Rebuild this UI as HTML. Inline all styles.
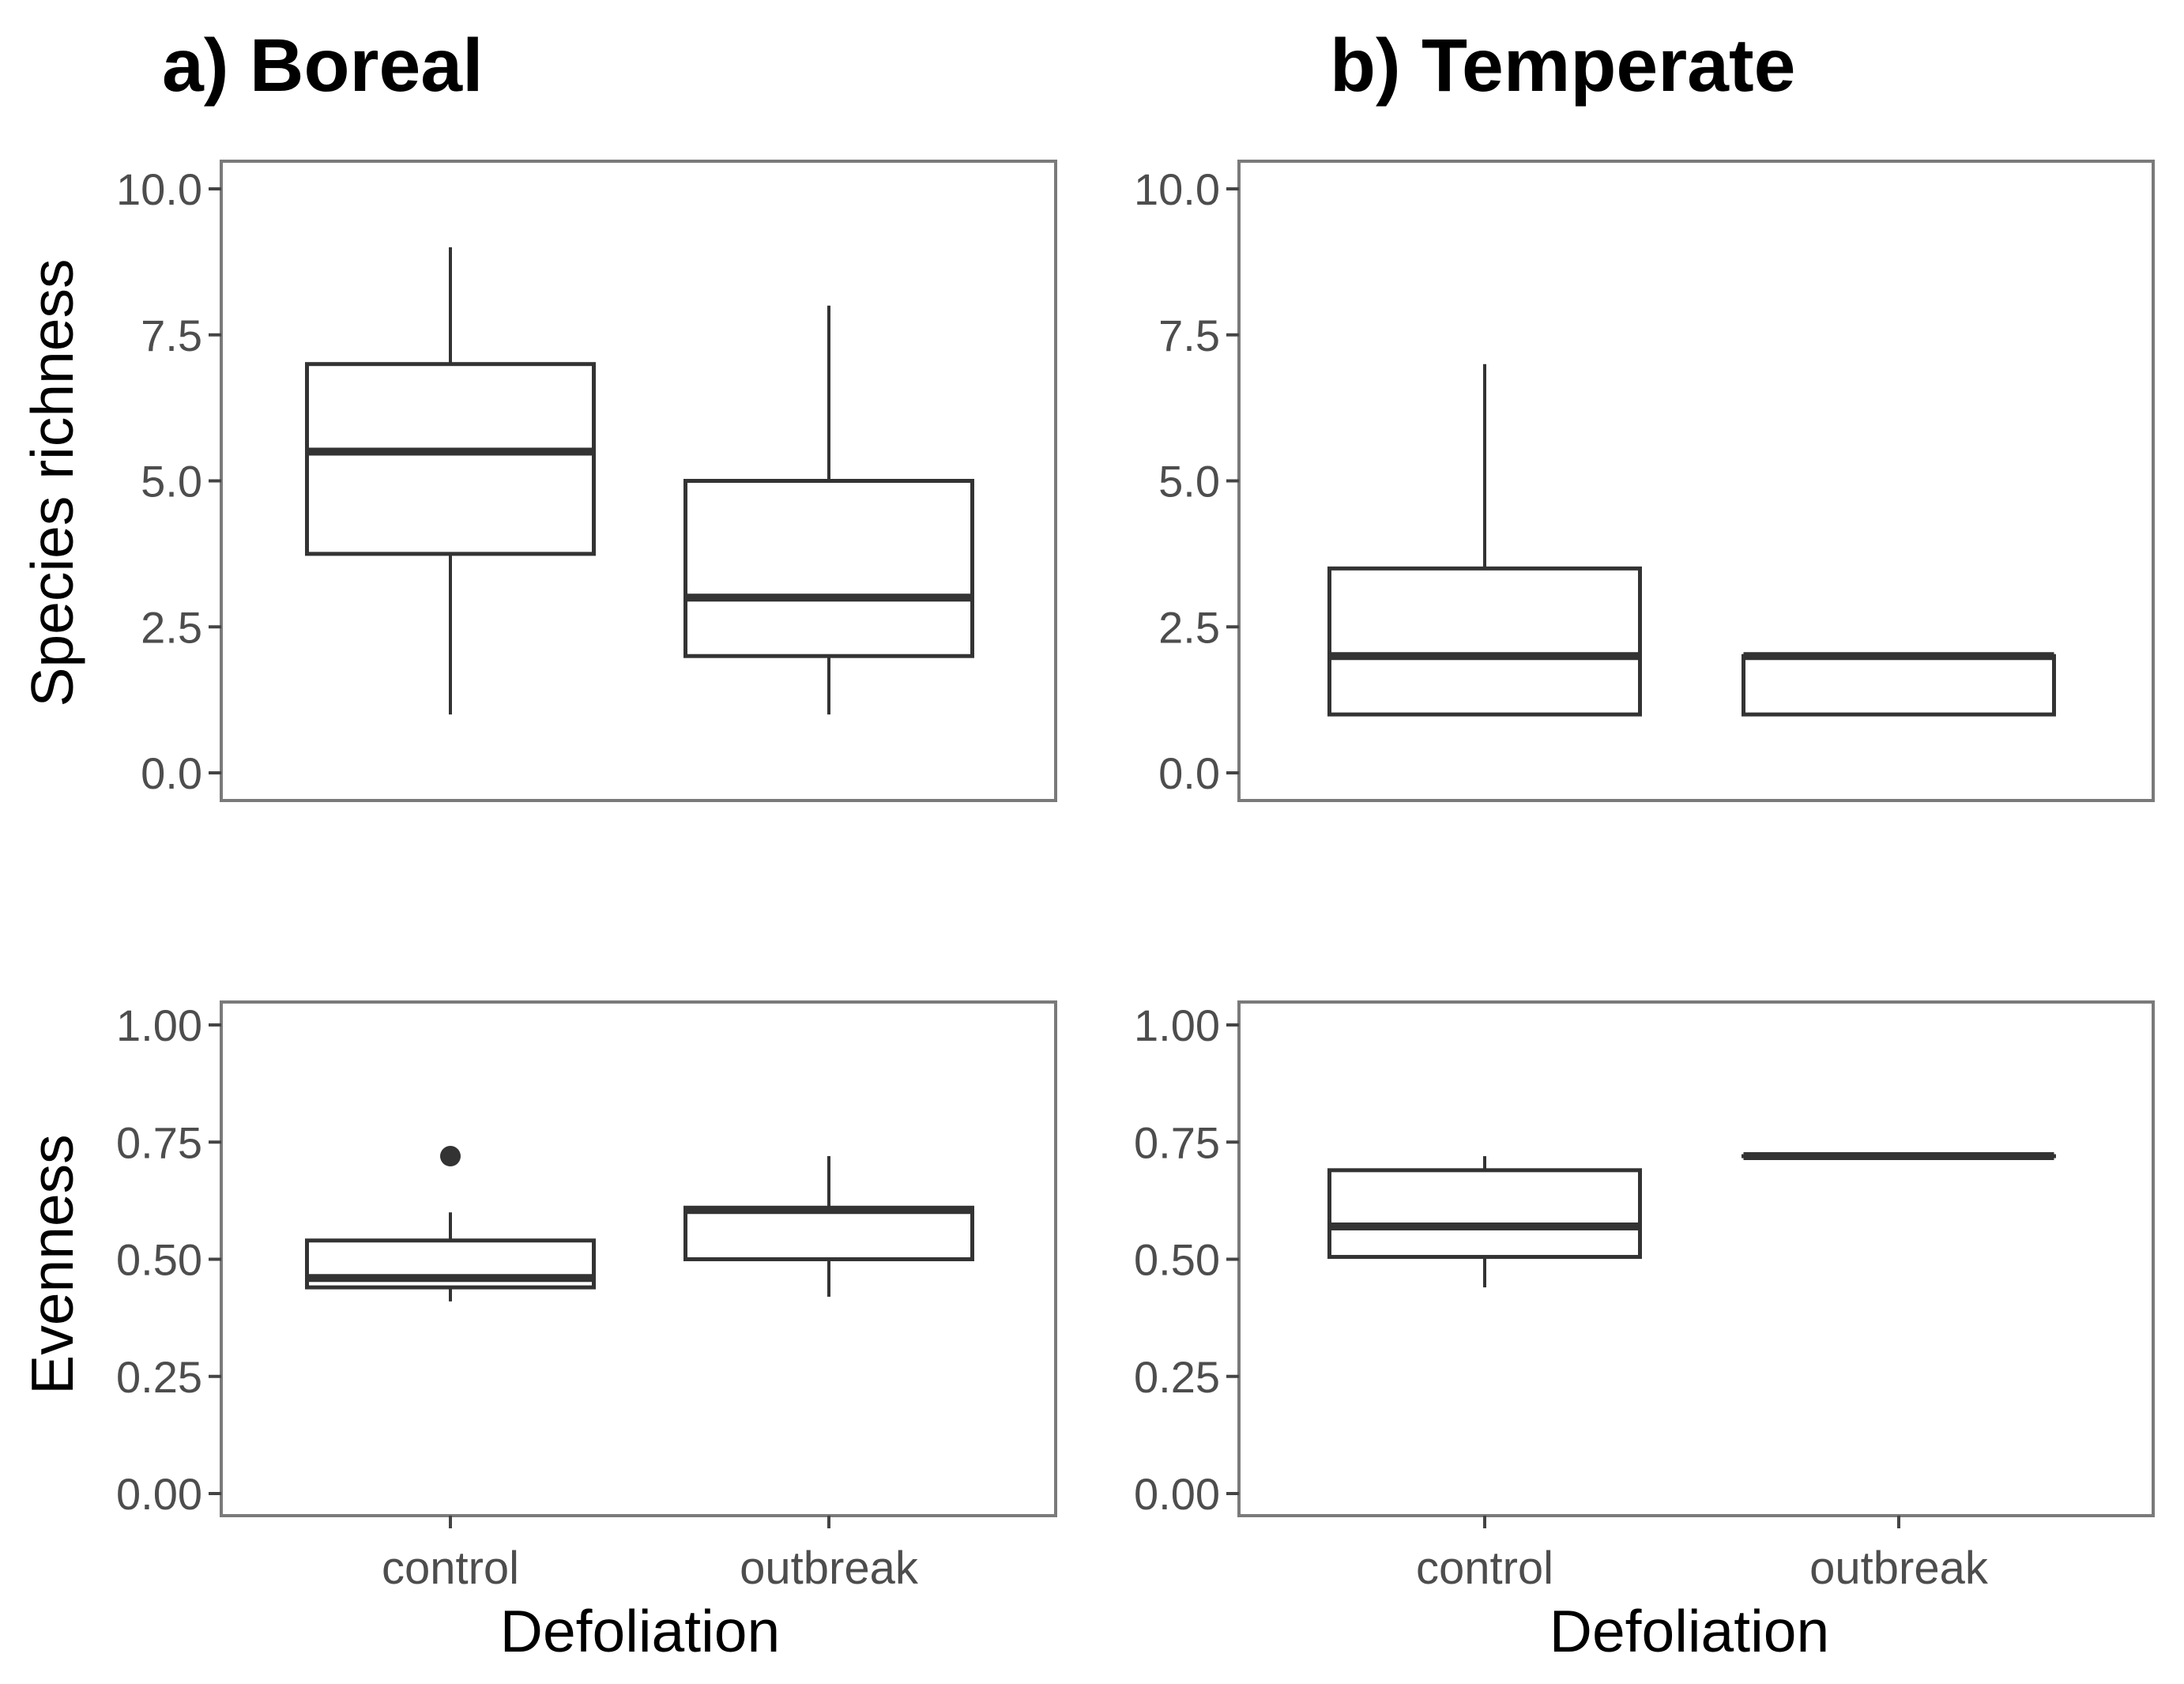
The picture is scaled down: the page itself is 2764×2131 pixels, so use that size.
<!DOCTYPE html>
<html><head><meta charset="utf-8"><style>
html,body{margin:0;padding:0;background:#fff;}
svg{display:block;font-family:"Liberation Sans",sans-serif;}
</style></head><body>
<svg id="chart" width="2764" height="2131" viewBox="0 0 2764 2131" xmlns="http://www.w3.org/2000/svg">
<rect width="2764" height="2131" fill="#fff"/>
<text x="205" y="115" font-size="95" font-weight="bold" fill="#000">a) Boreal</text>
<text x="1683" y="115" font-size="95" font-weight="bold" fill="#000">b) Temperate</text>
<text transform="translate(92,611) rotate(-90)" text-anchor="middle" font-size="75" fill="#000">Species richness</text>
<text transform="translate(92,1600) rotate(-90)" text-anchor="middle" font-size="75" fill="#000">Evenness</text>
<text x="810" y="2090" text-anchor="middle" font-size="75" fill="#000">Defoliation</text>
<text x="2138" y="2090" text-anchor="middle" font-size="75" fill="#000">Defoliation</text>
<g id="plots"></g>
</svg>
<script>
const categories = ["control", "outbreak"];
const richTicks = [0, 2.5, 5, 7.5, 10];
const richTickLabels = ["0.0", "2.5", "5.0", "7.5", "10.0"];
const evenTicks = [0, 0.25, 0.5, 0.75, 1];
const evenTickLabels = ["0.00", "0.25", "0.50", "0.75", "1.00"];
// [lower whisker, q1, median, q3, upper whisker]
const borealRichness = [[1, 3.75, 5.5, 7, 9], [1, 2, 3, 5, 8]];
const temperateRichness = [[1, 1, 2, 3.5, 7], [1, 1, 2, 2, 2]];
const borealEvenness = [[0.41, 0.44, 0.46, 0.54, 0.60], [0.42, 0.50, 0.605, 0.61, 0.72]];
const temperateEvenness = [[0.44, 0.505, 0.57, 0.69, 0.72], [0.72, 0.72, 0.72, 0.72, 0.72]];
const borealEvenOutliers = [[0.72], []];
const temperateEvenOutliers = [[], []];
const NS = "http://www.w3.org/2000/svg";
const g = document.getElementById('plots');
function mk(tag, attrs, parent) {
  const e = document.createElementNS(NS, tag);
  for (const k in attrs) e.setAttribute(k, attrs[k]);
  (parent || g).appendChild(e);
  return e;
}
function panel(name, px0, px1, py0, py1, dom0, dom1, v0y, v1y, ticks, labels, data, outliers, showX, catCenters, boxW) {
  const grp = mk('g', {});
  
  
  const y = v => v0y + (v - dom0) / (dom1 - dom0) * (v1y - v0y);
  const frame = mk('rect', {x: px0, y: py0, width: px1 - px0, height: py1 - py0, fill: 'none', stroke: '#7a7a7a', 'stroke-width': 4}, grp);
  
  
  ticks.forEach((t, i) => {
    const ty = y(t);
    const tk = mk('line', {x1: px0 - 16, x2: px0, y1: ty, y2: ty, stroke: '#444', 'stroke-width': 4}, grp);
    
    
    const tl = mk('text', {x: px0 - 24, y: ty + 20, 'text-anchor': 'end', 'font-size': 56, fill: '#4d4d4d'}, grp);
    tl.textContent = labels[i];
    
    
  });
  data.forEach((d, i) => {
    const cx = catCenters[i];
    const bg = mk('g', {}, grp);
    
    
    mk('line', {x1: cx, x2: cx, y1: y(d[0]), y2: y(d[1]), stroke: '#333', 'stroke-width': 4}, bg);
    mk('line', {x1: cx, x2: cx, y1: y(d[3]), y2: y(d[4]), stroke: '#333', 'stroke-width': 4}, bg);
    mk('rect', {x: cx - boxW / 2, y: y(d[3]), width: boxW, height: Math.max(0.01, y(d[1]) - y(d[3])), fill: '#fff', stroke: '#333', 'stroke-width': 5}, bg);
    mk('line', {x1: cx - boxW / 2, x2: cx + boxW / 2, y1: y(d[2]), y2: y(d[2]), stroke: '#333', 'stroke-width': 10}, bg);
    outliers[i].forEach(o => {
      const c = mk('circle', {cx: cx, cy: y(o), r: 13, fill: '#333'}, bg);
      
      
    });
    if (showX) {
      const xt = mk('line', {x1: cx, x2: cx, y1: py1, y2: py1 + 16, stroke: '#444', 'stroke-width': 4}, grp);
      
      
      const xl = mk('text', {x: cx, y: 2004, 'text-anchor': 'middle', 'font-size': 58, fill: '#4d4d4d'}, grp);
      xl.textContent = categories[i];
      
      
    }
  });
}
const bCenters = [570, 1049], tCenters = [1879, 2403];
panel('panel-boreal-richness', 280, 1336, 204, 1013, 0, 10, 978, 239, richTicks, richTickLabels, borealRichness, [[], []], false, bCenters, 363);
panel('panel-temperate-richness', 1568, 2725, 204, 1013, 0, 10, 978, 239, richTicks, richTickLabels, temperateRichness, [[], []], false, tCenters, 393);
panel('panel-boreal-evenness', 280, 1336, 1268, 1918, 0, 1, 1890, 1297, evenTicks, evenTickLabels, borealEvenness, borealEvenOutliers, true, bCenters, 363);
panel('panel-temperate-evenness', 1568, 2725, 1268, 1918, 0, 1, 1890, 1297, evenTicks, evenTickLabels, temperateEvenness, temperateEvenOutliers, true, tCenters, 393);
</script>
</body></html>
